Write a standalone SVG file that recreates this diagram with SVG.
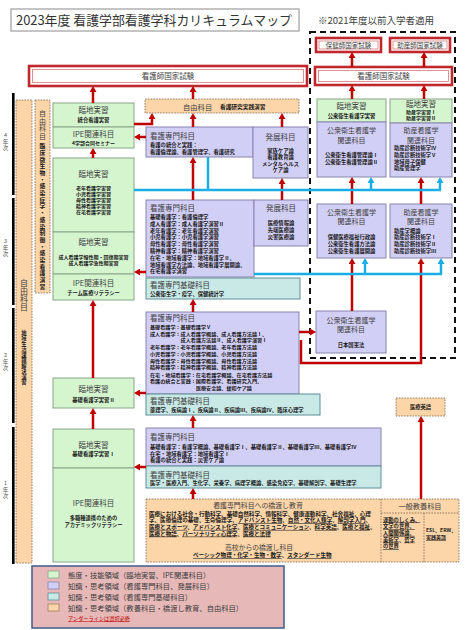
<svg xmlns="http://www.w3.org/2000/svg" width="473" height="630" viewBox="0 0 473 630" font-family="'Noto Sans CJK JP', 'Noto Sans', sans-serif">
<style>
.g{fill:#d5f5cf;stroke:#8aa58a;stroke-width:1}
.p{fill:#d2cff6;stroke:#8784ad;stroke-width:1}
.t{fill:#c9e9e7;stroke:#5e8e98;stroke-width:1}
.o{fill:#fcd5a9;stroke:#7d6448;stroke-width:0.8;stroke-dasharray:1.6 1.2}
.ol{stroke:#7d6448;stroke-width:0.8;stroke-dasharray:1.6 1.2;fill:none}
.h{font-size:7.5px;fill:#3f3f3f}
.h2{font-size:7px;fill:#3f3f3f}
.b{font-size:5.3px;font-weight:bold;fill:#1a1a1a}
.s{font-size:5px}
.s1{font-size:5.1px}
.c{text-anchor:middle}
.u{text-decoration:underline}
.eo{fill:#fff;stroke:#c0282d;stroke-width:2.6}
.ei{fill:none;stroke:#d77a7a;stroke-width:0.8}
.et{font-size:7.5px;fill:#3f3f3f;text-anchor:middle}
.r{stroke:#c00000;stroke-width:2.5;fill:none;marker-end:url(#ar)}
.cy{stroke:#18ade5;stroke-width:2.5;fill:none}
.ca{stroke:#18ade5;stroke-width:2.5;fill:none;marker-end:url(#ac)}
.vt{writing-mode:vertical-rl;text-orientation:upright}
.yr{font-size:5.5px;fill:#555;text-anchor:middle}
.lg{font-size:7.3px;fill:#404040}
</style>
<defs>
<marker id="ar" viewBox="0 0 6 7" markerWidth="6" markerHeight="7" refX="1" refY="3.5" orient="auto" markerUnits="userSpaceOnUse"><path d="M0,0 L6,3.5 L0,7 z" fill="#c00000"/></marker>
<marker id="ac" viewBox="0 0 6 7" markerWidth="6" markerHeight="7" refX="1" refY="3.5" orient="auto" markerUnits="userSpaceOnUse"><path d="M0,0 L6,3.5 L0,7 z" fill="#18ade5"/></marker>
</defs>
<rect width="473" height="630" fill="#fff"/>

<g id="title">
<rect x="11" y="9" width="288" height="22" fill="#fff" stroke="#8a8a8a" stroke-width="1"/>
<text x="16" y="25" font-size="13" fill="#333" textLength="276" lengthAdjust="spacingAndGlyphs">2023年度 看護学部看護学科カリキュラムマップ</text>
</g>
<text id="note" x="318" y="24" font-size="9.5" fill="#404040">※2021年度以前入学者適用</text>

<g id="dashed-area"><rect x="310" y="32" width="145" height="326" fill="none" stroke="#111" stroke-width="2" stroke-dasharray="6 4"/></g>

<g id="years">
<rect x="12" y="93" width="2.6" height="102" fill="#000"/>
<rect x="12" y="198" width="2.6" height="107" fill="#000"/>
<rect x="12" y="308" width="2.6" height="115" fill="#000"/>
<rect x="12" y="427" width="2.6" height="137" fill="#000"/>
<text class="yr" x="5.5" y="137">4</text><text class="yr" x="5.5" y="143.5">年</text><text class="yr" x="5.5" y="150">次</text>
<text class="yr" x="5.5" y="243">3</text><text class="yr" x="5.5" y="249.5">年</text><text class="yr" x="5.5" y="256">次</text>
<text class="yr" x="5.5" y="357">2</text><text class="yr" x="5.5" y="363.5">年</text><text class="yr" x="5.5" y="370">次</text>
<text class="yr" x="5.5" y="485">1</text><text class="yr" x="5.5" y="491.5">年</text><text class="yr" x="5.5" y="498">次</text>
</g>

<g id="exam-nurse-left"><rect class="eo" x="29" y="66" width="278" height="20"/><rect class="ei" x="32.5" y="69.5" width="271" height="13"/><text class="et" x="168" y="79">看護師国家試験</text></g>
<g id="exam-nurse-right"><rect class="eo" x="315" y="67" width="137" height="18"/><rect class="ei" x="318.5" y="70.5" width="130" height="11"/><text class="et" x="383.5" y="79">看護師国家試験</text></g>
<g id="exam-phn"><rect class="eo" x="316" y="38" width="65" height="14"/><rect class="ei" x="319" y="41" width="59" height="8"/><text class="et" x="348.5" y="47.5" style="font-size:6.5px">保健師国家試験</text></g>
<g id="exam-mw"><rect class="eo" x="390" y="38" width="60" height="14"/><rect class="ei" x="393" y="41" width="54" height="8"/><text class="et" x="420" y="47.5" style="font-size:6.5px">助産師国家試験</text></g>

<g id="free-col1"><rect class="o" x="16" y="100" width="16" height="463"/>
<text class="vt" x="24" y="279" font-size="8" fill="#3f3f3f">自由科目</text>
<text class="vt b" x="24" y="330" style="font-size:5.3px;letter-spacing:0.2px">地域生活課題解決演習</text></g>
<g id="free-col2"><rect class="o" x="35" y="100" width="15" height="193"/>
<text class="vt" x="42.5" y="110" font-size="7" fill="#3f3f3f" style="letter-spacing:0.5px">自由科目</text>
<text class="vt b" x="42.5" y="143" style="font-size:5.8px;letter-spacing:0.9px">臨床微生物・感染症学・感染制御・感染看護演習</text></g>

<g id="free-top"><rect class="o" x="145" y="99" width="154" height="14"/>
<text x="183" y="109.5" font-size="7.3" fill="#3f3f3f">自由科目</text>
<text class="b" x="220" y="108.5" style="font-size:5.7px">看護研究実践演習</text></g>

<g id="g4-practice"><rect class="g" x="53" y="103" width="81" height="24"/><text class="h c" x="93.5" y="113">臨地実習</text><text class="b c" x="93.5" y="121.5">統合看護実習</text></g>
<g id="g4-ipe"><rect class="g" x="53" y="127" width="81" height="21"/><text class="h c" x="93.5" y="136.5">IPE関連科目</text><text class="b c" x="93.5" y="144.5" style="font-size:5px">4学部合同セミナー</text></g>

<g id="g3-practice1"><rect class="g" x="53" y="158" width="81" height="74"/><text class="h c" x="93.5" y="176.5">臨地実習</text>
<text class="b s c" x="93.5" y="189.5">老年看護学実習</text><text class="b s c" x="93.5" y="195.5">小児看護学実習</text><text class="b s c" x="93.5" y="201.5">母性看護学実習</text><text class="b s c" x="93.5" y="207.5">精神看護学実習</text><text class="b s c" x="93.5" y="213.5">在宅看護学実習</text></g>
<g id="g3-practice2"><rect class="g" x="53" y="232" width="81" height="42"/><text class="h c" x="93.5" y="244.5">臨地実習</text>
<text class="b s c" x="93.5" y="258.5">成人看護学慢性期・回復期実習</text><text class="b s c" x="93.5" y="265">成人看護学急性期実習</text></g>
<g id="g3-ipe"><rect class="g" x="53" y="274" width="81" height="26"/><text class="h c" x="93.5" y="285.5">IPE関連科目</text><text class="b c" x="93.5" y="294.5">チーム医療リテラシー</text></g>

<g id="g2-practice"><rect class="g" x="53" y="378" width="81" height="30"/><text class="h c" x="93.5" y="392">臨地実習</text><text class="b c" x="93.5" y="401.5">基礎看護学実習Ⅱ</text></g>
<g id="g1-practice"><rect class="g" x="53" y="429" width="81" height="39"/><text class="h c" x="93.5" y="448">臨地実習</text><text class="b c" x="93.5" y="456">基礎看護学実習Ⅰ</text></g>
<g id="g1-ipe"><rect class="g" x="53" y="468" width="81" height="94"/><text class="h c" x="93.5" y="506">IPE関連科目</text><text class="b c" x="93.5" y="520">多職種連携のための</text><text class="b c" x="93.5" y="527">アカデミックリテラシー</text></g>

<g id="p4-senmon"><rect class="p" x="146" y="127" width="107" height="30"/><text class="h" x="150" y="139">看護専門科目</text>
<text class="b" x="150" y="146.5">看護の統合と実践：</text><text class="b" x="150" y="153.5">看護倫理論、看護管理学、看護研究</text></g>
<g id="p4-hatten"><rect class="p" x="253" y="127" width="55" height="51"/><text class="h c" x="280.5" y="140">発展科目</text>
<text class="b c" x="280.5" y="152.5">家族ケア論</text><text class="b c" x="280.5" y="159">看護教育論</text><text class="b c" x="280.5" y="165.5">メンタルヘルス</text><text class="b c" x="280.5" y="172">ケア論</text></g>

<g id="p3-senmon"><rect class="p" x="146" y="200" width="108" height="77"/><text class="h" x="150" y="210.5">看護専門科目</text>
<text class="b" x="150" y="219">基礎看護学：看護倫理学</text>
<text class="b" x="150" y="225.8">成人看護学：成人看護学演習Ⅱ</text>
<text class="b" x="150" y="232.6">老年看護学：老年看護学演習</text>
<text class="b" x="150" y="239.4">小児看護学：小児看護学演習</text>
<text class="b" x="150" y="246.2">母性看護学：母性看護学演習</text>
<text class="b" x="150" y="253">精神看護学：精神看護学演習</text>
<text class="b" x="150" y="259.8">在宅・地域看護学：地域看護学Ⅱ、</text>
<text class="b" x="150" y="266.6">地域看護学方法論、地域看護学展開論、</text>
<text class="b" x="150" y="273.4">在宅看護学演習</text></g>
<g id="p3-hatten"><rect class="p" x="254" y="200" width="54" height="46"/><text class="h c" x="281" y="211">発展科目</text>
<text class="b c" x="281" y="225">医療情報論</text><text class="b c" x="281" y="232">先端医療論</text><text class="b c" x="281" y="239">災害医療論</text></g>
<g id="t3-kiso"><rect class="t" x="146" y="278" width="154" height="21"/><text class="h" x="150" y="288">看護専門基礎科目</text><text class="b" x="150" y="296">公衆衛生学・疫学、保健統計学</text></g>

<g id="p2-senmon"><rect class="p" x="146" y="312" width="153" height="82"/><text class="h" x="150" y="320.5">看護専門科目</text>
<text class="b s1" x="150" y="329">基礎看護学：基礎看護学Ⅴ</text>
<text class="b s1" x="150" y="335.7">成人看護学：成人看護学概論、成人看護方法論Ⅰ、</text>
<text class="b s1" x="180.6" y="342.4">成人看護方法論Ⅱ、成人看護学演習Ⅰ</text>
<text class="b s1" x="150" y="349.3">老年看護学：老年看護学概論、老年看護方法論</text>
<text class="b s1" x="150" y="355.9">小児看護学：小児看護学概論、小児看護方法論</text>
<text class="b s1" x="150" y="362.5">母性看護学：母性看護学概論、母性看護方法論</text>
<text class="b s1" x="150" y="369.1">精神看護学：精神看護学概論、精神看護方法論</text>
<text class="b s1" x="150" y="376.6">在宅・地域看護学：在宅看護学概論、在宅看護方法論</text>
<text class="b s1" x="150" y="383.3">看護の統合と実践：国際看護学、看護研究入門、</text>
<text class="b s1" x="195.9" y="390">医療安全論、緩和ケア論</text></g>
<g id="t2-kiso"><rect class="t" x="146" y="394" width="174" height="21"/><text class="h" x="150" y="403.5">看護専門基礎科目</text><text class="b" x="150" y="412">薬理学、疾病論Ⅰ、疾病論Ⅱ、疾病論Ⅲ、疾病論Ⅳ、臨床心理学</text></g>

<g id="p1-senmon"><rect class="p" x="146" y="428" width="235" height="38"/><text class="h" x="150" y="440">看護専門科目</text>
<text class="b" x="150" y="449">基礎看護学：看護学概論、基礎看護学Ⅰ、基礎看護学Ⅱ、基礎看護学Ⅲ、基礎看護学Ⅳ</text>
<text class="b" x="150" y="455.5">在宅・地域看護学：地域看護学Ⅰ</text>
<text class="b" x="150" y="462">看護の統合と実践：災害ケア論</text></g>
<g id="t1-kiso"><rect class="t" x="146" y="466" width="235" height="22"/><text class="h" x="150" y="477.5">看護専門基礎科目</text><text class="b" x="150" y="485">医学・医療入門、生化学、栄養学、病理学概論、感染免疫学、基礎解剖学、基礎生理学</text></g>

<g id="phn4-practice"><rect class="g" x="317" y="99" width="69" height="23"/><text class="h c" x="351.5" y="109">臨地実習</text><text class="b c" x="351.5" y="118">公衆衛生看護学実習</text></g>
<g id="phn4-courses"><rect class="p" x="317" y="122" width="69" height="55"/><text class="h2 c" x="351.5" y="133">公衆衛生看護学</text><text class="h2 c" x="351.5" y="142.5">関連科目</text>
<text class="b c" x="351.5" y="157">公衆衛生看護管理論Ⅰ</text><text class="b c" x="351.5" y="164">公衆衛生看護管理論Ⅱ</text></g>
<g id="mw4-practice"><rect class="g" x="390" y="99" width="62" height="24"/><text class="h c" x="421" y="107">臨地実習</text><text class="b s c" x="421" y="114">助産学実習Ⅰ</text><text class="b s c" x="421" y="120">助産学実習Ⅱ</text></g>
<g id="mw4-courses"><rect class="p" x="390" y="123" width="62" height="54"/><text class="h2 c" x="421" y="133">助産看護学</text><text class="h2 c" x="421" y="142.5">関連科目</text>
<text class="b" x="394" y="150">助産診断技術学Ⅳ</text><text class="b" x="394" y="156.8">助産診断技術学Ⅴ</text><text class="b" x="394" y="163.6">地域母子保健</text><text class="b" x="394" y="170.4">助産管理学</text></g>

<g id="phn3-courses"><rect class="p" x="317" y="204" width="69" height="54"/><text class="h2 c" x="351.5" y="214.5">公衆衛生看護学</text><text class="h2 c" x="351.5" y="224">関連科目</text>
<text class="b c" x="351.5" y="239">保健医療福祉行政論</text><text class="b c" x="351.5" y="246">公衆衛生看護方法論</text><text class="b c" x="351.5" y="253">公衆衛生看護展開論</text></g>
<g id="mw3-courses"><rect class="p" x="390" y="204" width="62" height="54"/><text class="h2 c" x="421" y="214.5">助産看護学</text><text class="h2 c" x="421" y="224">関連科目</text>
<text class="b" x="394" y="232.5">助産学概論</text><text class="b" x="394" y="239.3">助産診断技術学Ⅰ</text><text class="b" x="394" y="246.1">助産診断技術学Ⅱ</text><text class="b" x="394" y="252.9">助産診断技術学Ⅲ</text></g>
<g id="phn2-courses"><rect class="p" x="316" y="311" width="70" height="42"/><text class="h2 c" x="351" y="322.5">公衆衛生看護学</text><text class="h2 c" x="351" y="332">関連科目</text><text class="b c" x="351" y="347">日本国憲法</text></g>

<g id="med-english"><rect class="o" x="396" y="398" width="49" height="18"/><text class="b c" x="420.5" y="409">医療英語</text></g>

<g id="bridge">
<rect class="o" x="146" y="499" width="313" height="63"/>
<line class="ol" x1="381" y1="499" x2="381" y2="562"/>
<line class="ol" x1="381" y1="513" x2="459" y2="513"/>
<line class="ol" x1="424" y1="513" x2="424" y2="562"/>
<text class="c" x="258" y="507.5" font-size="6.9" fill="#3f3f3f">看護専門科目への橋渡し教育</text>
<text class="b" x="149" y="515.5" style="font-size:5.55px">医療における社会・行動科学、基礎自然科学、情報科学、健康運動科学、社会福祉、心理</text>
<text class="b" x="149" y="522.2" style="font-size:5.55px">学、医療倫理の基礎、生命倫理学、<tspan class="u">アドバンスト生物</tspan>、<tspan class="u">自然・文化人類学</tspan>、<tspan class="u">解剖学入門</tspan>、</text>
<text class="b" x="149" y="528.9" style="font-size:5.55px"><tspan class="u">医療とスポーツ</tspan>、<tspan class="u">アドバンスト化学</tspan>、<tspan class="u">医療とコミュニケーション</tspan>、<tspan class="u">科学英語</tspan>、<tspan class="u">医療と福祉</tspan>、</text>
<text class="b" x="149" y="535.6" style="font-size:5.55px"><tspan class="u">医療と物語</tspan>、<tspan class="u">パーソナリティ心理学</tspan>、<tspan class="u">医療と法律</tspan></text>
<text class="c" x="259" y="549.5" font-size="6.8" fill="#3f3f3f">高校からの橋渡し科目</text>
<text class="b" x="193" y="557" style="font-size:5.55px"><tspan class="u">ベーシック物理・化学・生物・数学</tspan>、<tspan class="u">スタンダード生物</tspan></text>
<text class="c" x="420" y="509" font-size="7.2" fill="#3f3f3f">一般教養科目</text>
<text class="b u" x="383" y="521.5">運動のしくみ、</text>
<text class="b u" x="383" y="528.2">文学の世界、</text>
<text class="b u" x="383" y="534.9">人間関係論、</text>
<text class="b" x="383" y="541.6"><tspan class="u">美術学</tspan>、<tspan class="u">哲学</tspan></text>
<text class="b u" x="383" y="548.3">の世界</text>
<text class="b" x="426" y="532" style="font-size:5px">ESL、ERW、</text>
<text class="b u" x="426" y="539" style="font-size:5px">実践英語</text>
</g>

<g id="connectors">
<path class="r" d="M93,103 V91"/>
<path class="r" d="M193,99 V91"/>
<path class="r" d="M193,127 V118"/>
<path class="r" d="M282,127 V118"/>
<path class="r" d="M134,124 H152 V118"/>
<path class="r" d="M146,137 H139"/>
<path class="r" d="M93,158 V153"/>
<path class="r" d="M193,200 V162"/>
<path class="r" d="M282,200 V183"/>
<path class="r" d="M146,272 H139"/>
<path class="r" d="M193,312 V304"/>
<path class="r" d="M93,378 V305"/>
<path class="r" d="M146,393 H139"/>
<path class="r" d="M93,429 V413"/>
<path class="r" d="M193,428 V420"/>
<path class="r" d="M146,467 H139"/>
<path class="r" d="M193,499 V493"/>
<path class="r" d="M421,499 V421"/>
<path class="r" d="M299,332 H311"/>
<path class="r" d="M301,340 V363 H421 V263"/>
<path class="r" d="M352,311 V263"/>
<path class="r" d="M352,204 V182"/>
<path class="r" d="M421,204 V182"/>
<path class="r" d="M352,99 V90"/>
<path class="r" d="M424,99 V90"/>
<path class="r" d="M352,67 V57"/>
<path class="r" d="M424,67 V57"/>
<path class="cy" d="M134,190 H441"/>
<path class="cy" d="M208,190 V157"/>
<path class="ca" d="M371,190 V182"/>
<path class="ca" d="M440,190 V182"/>
<path class="cy" d="M254,274 H442"/>
<path class="ca" d="M365,274 V263"/>
<path class="ca" d="M441,274 V263"/>
</g>

<g id="legend">
<rect x="32" y="566" width="252" height="62" fill="#e6b8b7" stroke="#3f5b8c" stroke-width="1.5"/>
<rect x="48" y="571" width="11" height="7" fill="#d5f5cf" stroke="#8aa58a" stroke-width="0.8"/>
<rect x="48" y="582" width="11" height="7" fill="#d2cff6" stroke="#8784ad" stroke-width="0.8"/>
<rect x="48" y="593" width="11" height="7" fill="#c9e9e7" stroke="#5e8e98" stroke-width="0.8"/>
<rect x="48" y="604" width="11" height="7" fill="#fcd5a9" stroke="#a08060" stroke-width="0.8"/>
<text class="lg" x="68" y="577.5">態度・技能領域（臨地実習、IPE関連科目）</text>
<text class="lg" x="68" y="588.5">知識・思考領域（看護専門科目、発展科目）</text>
<text class="lg" x="68" y="599.5">知識・思考領域（看護専門基礎科目）</text>
<text class="lg" x="68" y="610.5">知識・思考領域（教養科目・橋渡し教育、自由科目）</text>
<text class="u" x="68" y="620.5" font-size="5.2" fill="#c00000">アンダーラインは選択必修</text>
</g>
</svg>
